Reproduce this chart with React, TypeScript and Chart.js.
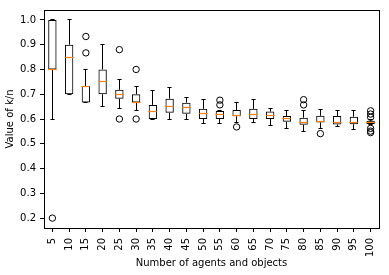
import React, { useEffect, useRef } from 'react';
import { Chart, registerables } from 'chart.js';

Chart.register(...registerables);

const categories = ['5', '10', '15', '20', '25', '30', '35', '40', '45', '50', '55', '60', '65', '70', '75', '80', '85', '90', '95', '100'];
const q1 = [0.8, 0.7, 0.667, 0.7, 0.682, 0.667, 0.6, 0.625, 0.621, 0.6, 0.6, 0.611, 0.6, 0.6, 0.589, 0.577, 0.586, 0.578, 0.579, 0.58];
const medians = [0.8, 0.85, 0.733, 0.75, 0.7, 0.667, 0.629, 0.649, 0.645, 0.621, 0.618, 0.616, 0.618, 0.613, 0.601, 0.587, 0.588, 0.587, 0.587, 0.587];
const q3 = [1.0, 0.9, 0.733, 0.8, 0.718, 0.7, 0.657, 0.682, 0.666, 0.641, 0.632, 0.636, 0.641, 0.63, 0.612, 0.605, 0.613, 0.612, 0.609, 0.593];
const whiskerLow = [0.6, 0.7, 0.667, 0.65, 0.641, 0.633, 0.6, 0.6, 0.6, 0.582, 0.582, 0.587, 0.585, 0.574, 0.56, 0.548, 0.563, 0.569, 0.557, 0.576];
const whiskerHigh = [1.0, 1.0, 0.8, 0.9, 0.759, 0.733, 0.714, 0.726, 0.688, 0.68, 0.636, 0.665, 0.677, 0.641, 0.636, 0.634, 0.637, 0.633, 0.633, 0.6];
const outliers: number[][] = [
  [0.2], [], [0.933, 0.867], [], [0.88, 0.6], [0.8, 0.6], [], [], [], [],
  [0.676, 0.657], [0.568], [], [], [], [0.678, 0.657], [0.541], [], [], [0.633, 0.62, 0.607, 0.562, 0.551, 0.545],
];
const yTicks = [0.2, 0.3, 0.4, 0.5, 0.6, 0.7, 0.8, 0.9, 1.0];
const yMin = 0.16;
const yMax = 1.04;

const FONT = { family: 'DejaVu Sans', size: 10 };

const snap = (p: number) => Math.round(p - 0.5) + 0.5;

const boxPartsPlugin = {
  id: 'boxParts',
  afterDatasetsDraw(chart: any) {
    const { ctx, scales, chartArea } = chart;
    const x = scales.x;
    const y = scales.y;
    const boxW = (x.width / categories.length) * 0.5;
    const capW = boxW / 2;
    ctx.save();
    ctx.lineWidth = 1;
    categories.forEach((_, i) => {
      const cx = snap(x.getPixelForValue(i));
      const pQ1 = y.getPixelForValue(q1[i]);
      const pQ3 = y.getPixelForValue(q3[i]);
      const pLo = snap(y.getPixelForValue(whiskerLow[i]));
      const pHi = snap(y.getPixelForValue(whiskerHigh[i]));
      const pMed = snap(y.getPixelForValue(medians[i]));
      ctx.strokeStyle = '#000';
      ctx.beginPath();
      ctx.moveTo(cx, pQ1);
      ctx.lineTo(cx, pLo);
      ctx.moveTo(cx, pQ3);
      ctx.lineTo(cx, pHi);
      ctx.moveTo(cx - capW / 2, pLo);
      ctx.lineTo(cx + capW / 2, pLo);
      ctx.moveTo(cx - capW / 2, pHi);
      ctx.lineTo(cx + capW / 2, pHi);
      ctx.stroke();
      ctx.strokeStyle = '#ff7f0e';
      ctx.lineWidth = 1.2;
      ctx.beginPath();
      ctx.moveTo(cx - boxW / 2, pMed);
      ctx.lineTo(cx + boxW / 2, pMed);
      ctx.stroke();
      ctx.lineWidth = 1;
    });
    ctx.strokeStyle = '#000';
    ctx.strokeRect(
      Math.round(chartArea.left) + 0.5,
      Math.round(chartArea.top) + 0.5,
      Math.round(chartArea.right) - Math.round(chartArea.left),
      Math.round(chartArea.bottom) - Math.round(chartArea.top)
    );
    ctx.restore();
  },
};

export default function App() {
  const canvasRef = useRef<HTMLCanvasElement | null>(null);

  useEffect(() => {
    const canvas = canvasRef.current;
    if (!canvas) return;
    const boxes = categories.map((_, i) => [q1[i], q3[i]]);
    const points: { x: string; y: number }[] = [];
    outliers.forEach((list, i) => list.forEach((v) => points.push({ x: categories[i], y: v })));

    const chart = new Chart(canvas, {
      type: 'bar',
      data: {
        labels: categories,
        datasets: [
          {
            type: 'bar',
            data: boxes as any,
            backgroundColor: 'rgba(255,255,255,0)',
            borderColor: '#000',
            borderWidth: 1,
            borderSkipped: false,
            barPercentage: 0.5,
            categoryPercentage: 1.0,
          } as any,
          {
            type: 'line',
            data: points as any,
            showLine: false,
            pointStyle: 'circle',
            pointRadius: 3.2,
            pointBorderWidth: 1,
            pointBorderColor: '#000',
            pointBackgroundColor: 'rgba(255,255,255,0)',
          } as any,
        ],
      },
      options: {
        responsive: false,
        animation: false,
        devicePixelRatio: 1,
        layout: { padding: { top: 10, right: 10, left: 0, bottom: 0 } },
        plugins: { legend: { display: false }, tooltip: { enabled: false } },
        scales: {
          x: {
            type: 'category',
            offset: true,
            grid: { display: true, drawOnChartArea: false, drawTicks: true, tickLength: 4, color: '#000', offset: false },
            border: { display: false },
            ticks: { color: '#000', font: FONT, minRotation: 90, maxRotation: 90, autoSkip: false, padding: 6 },
            title: { display: true, text: 'Number of agents and objects', color: '#000', font: FONT, padding: { top: 0, bottom: 6 } },
            afterFit: (s: any) => { s.height = 47; },
          },
          y: {
            type: 'linear',
            min: yMin,
            max: yMax,
            grid: { display: true, drawOnChartArea: false, drawTicks: true, tickLength: 4, color: '#000' },
            border: { display: false },
            ticks: { color: '#000', font: FONT, padding: 4, callback: (v: any) => Number(v).toFixed(1) },
            afterBuildTicks: (s: any) => { s.ticks = yTicks.map((v) => ({ value: v })); },
            title: { display: true, text: 'Value of k/n', color: '#000', font: FONT, padding: { top: 4, bottom: 0 } },
            afterFit: (s: any) => { s.width = 44; },
          },
        },
      },
      plugins: [boxPartsPlugin],
    });
    return () => chart.destroy();
  }, []);

  return (
    <div style={{ position: 'fixed', left: 0, top: 0, width: 389, height: 275, background: '#fff' }}>
      <canvas ref={canvasRef} width={389} height={275} style={{ width: 389, height: 275 }} />
    </div>
  );
}
